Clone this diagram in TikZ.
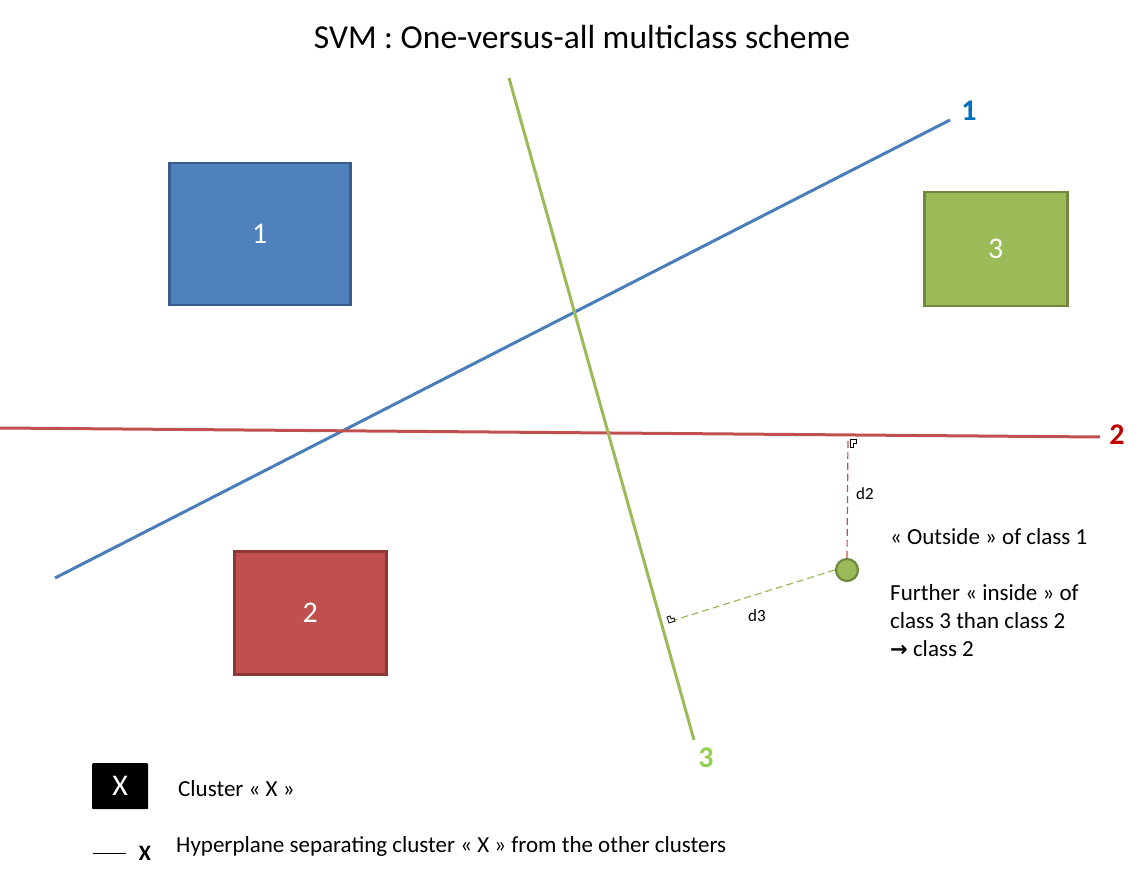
\documentclass[tikz,border=0pt]{standalone}
\usepackage{fontspec}
\setmainfont{Carlito}
\newfontfamily\dejavu{DejaVu Sans}
\definecolor{bluefill}{RGB}{79,129,189}
\definecolor{blueline}{RGB}{56,93,138}
\definecolor{bluehp}{RGB}{74,126,187}
\definecolor{bluelab}{RGB}{0,112,192}
\definecolor{redfill}{RGB}{192,80,77}
\definecolor{redline}{RGB}{140,56,54}
\definecolor{redhp}{RGB}{192,80,77}
\definecolor{redlab}{RGB}{192,0,0}
\definecolor{greenfill}{RGB}{155,187,89}
\definecolor{greenline}{RGB}{113,137,62}
\definecolor{greenhp}{RGB}{155,187,89}
\definecolor{greenlab}{RGB}{146,208,80}
\tikzset{
  cluster/.style={draw, line width=2.5pt, text=white, font=\fontsize{30}{34}\selectfont, inner sep=0pt, anchor=north west},
  hyper/.style={line width=3pt},
  hlabel/.style={font=\fontsize{30}{33}\selectfont\bfseries},
  dist/.style={dashed, line width=1.2pt, dash pattern=on 7pt off 4pt},
  dlabel/.style={font=\fontsize{17}{20}\selectfont},
  body/.style={font=\fontsize{23}{27}\selectfont, anchor=west, inner sep=0pt},
  rmark/.style={draw=black, fill=white, line width=0.8pt},
}
\begin{document}
\begin{tikzpicture}[x=1pt,y=-1pt]
\useasboundingbox (0,0) rectangle (1138,874);
% title
\node[font=\fontsize{33.5}{38}\selectfont] (title) at (582,37) {SVM : One-versus-all multiclass scheme};
% clusters
\node[cluster, fill=bluefill, draw=blueline, minimum width=181pt, minimum height=142pt] (c1) at (168,162) {1};
\node[cluster, fill=greenfill, draw=greenline, minimum width=143pt, minimum height=114pt] (c3) at (923,191) {3};
\node[cluster, fill=redfill, draw=redline, minimum width=152pt, minimum height=123pt] (c2) at (233,550) {2};
% hyperplanes
\coordinate (h1a) at (55,578);
\coordinate (h1b) at (950,120);
\coordinate (h2a) at (0,428);
\coordinate (h2b) at (1100,437);
\coordinate (h3a) at (509,78);
\coordinate (h3b) at (694,740);
\draw[hyper, draw=bluehp] (h1a) -- (h1b);
\draw[hyper, draw=redhp] (h2a) -- (h2b);
\draw[hyper, draw=greenhp] (h3a) -- (h3b);
\node[hlabel, text=bluelab] (l1) at (969,111) {1};
\node[hlabel, text=redlab] (l2) at (1117,435) {2};
\node[hlabel, text=greenlab] (l3) at (706,758) {3};
% point and distances
\coordinate (f2) at (848,437);
\coordinate (f3) at (668,622);
\node[circle, fill=greenfill, draw=greenline, line width=2.2pt, minimum size=22pt, inner sep=0pt] (pt) at (847,570) {};
\draw[dist, draw=redhp] (pt.north) -- (f2);
\draw[dist, draw=greenhp] (pt.west) -- (f3);
\node[dlabel] (d2) at (865,494) {d2};
\node[dlabel] (d3) at (757,616) {d3};
\draw[rmark] (850,439) -- (856,439) -- (856,443) -- (853,443) -- (853,447) -- (850,447) -- cycle;
\draw[rmark] (667,617) -- (670,616) -- (671,619) -- (674,618) -- (675,621) -- (669,623) -- cycle;
% explanation text
\node[body] (t1) at (890,537) {« Outside » of class 1};
\node[body] (t2) at (890,593) {Further « inside » of};
\node[body] (t3) at (890,621) {class 3 than class 2};
\node[body] (t4) at (890,649) {{\dejavu\bfseries\fontsize{21}{24}\selectfont →} class 2};
% legend
\node[fill=black, text=white, minimum width=56pt, minimum height=46pt, inner sep=0pt, anchor=north west, rounded corners=1pt, font=\fontsize{30}{34}\selectfont] (lx) at (92,763) {X};
\node[body] (lt1) at (178,789) {Cluster « X »};
\coordinate (lla) at (93,853);
\coordinate (llb) at (126,853);
\draw[line width=1pt] (lla) -- (llb);
\node[font=\fontsize{22}{26}\selectfont\bfseries] (lxl) at (145,853) {X};
\node[body] (lt2) at (176,846) {Hyperplane separating cluster « X » from the other clusters};
\end{tikzpicture}
\end{document}
